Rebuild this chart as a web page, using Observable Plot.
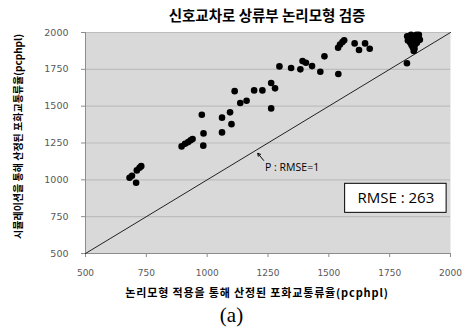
<!DOCTYPE html>
<html>
<head>
<meta charset="utf-8">
<script src="https://cdn.jsdelivr.net/npm/d3@7"></script>
<script src="https://cdn.jsdelivr.net/npm/@observablehq/plot@0.6"></script>
<style>
  html, body { margin: 0; padding: 0; background: #fff; }
</style>
</head>
<body>
<div id="chart"></div>
<script>
// ---- data ----
const title = "신호교차로 상류부 논리모형 검증";
const xLabel = "논리모형 적용을 통해 산정된 포화교통류율(pcphpl)";
const yLabel = "시뮬레이션을 통해 산정된 포화교통류율(pcphpl)";
const caption = "(a)";
const xTicks = [500, 750, 1000, 1250, 1500, 1750, 2000];
const yTicks = [500, 750, 1000, 1250, 1500, 1750, 2000];
const identity = [500, 2000];

// logic-model estimated saturation flow (x) vs simulation (y)
const modelFlow = [681, 691, 711, 722, 729, 708, 895, 909, 922, 932, 940, 984, 985, 978, 1061, 1061, 1100, 1094, 1113, 1136, 1162, 1193, 1227, 1263, 1279, 1263, 1297, 1345, 1383, 1392, 1406, 1431, 1465, 1482, 1539, 1538, 1546, 1556, 1563, 1606, 1624, 1649, 1668, 1821, 1849,
  1822, 1830, 1838, 1845, 1852, 1860, 1868, 1874, 1865, 1850, 1835, 1825, 1840, 1855, 1845, 1852, 1862, 1870];
const simFlow = [1014, 1028, 1064, 1082, 1093, 980, 1227, 1245, 1256, 1268, 1277, 1232, 1315, 1442, 1322, 1422, 1378, 1458, 1602, 1521, 1537, 1607, 1607, 1657, 1621, 1485, 1770, 1759, 1750, 1806, 1795, 1772, 1734, 1838, 1718, 1897, 1918, 1935, 1947, 1926, 1881, 1926, 1890, 1791, 1874,
  1975, 1955, 1985, 1965, 1975, 1985, 1970, 1950, 1945, 1940, 1930, 1945, 1915, 1920, 1900, 1890, 1930, 1985];

const rmseText = ["RMSE : 263"];
const rmseBox = [{x1: 1567, x2: 1984, y1: 776, y2: 973}];
const noteText = [{x: 1238, y: 1086, label: "P : RMSE=1"}];
const noteArrow = [{x1: 1232, y1: 1132, x2: 1208, y2: 1180}];

const points = modelFlow.map((v, i) => ({x: v, y: simFlow[i]}));

const kr = "'Noto Sans CJK KR', sans-serif";

const chart = Plot.plot({
  width: 462,
  height: 330,
  marginLeft: 85,
  marginRight: 12,
  marginTop: 32,
  marginBottom: 77,
  style: {fontFamily: "'DejaVu Sans', sans-serif", fontSize: "9px", color: "#595959", background: "#fff"},
  x: {domain: [500, 2000]},
  y: {domain: [500, 2000]},
  marks: [
    Plot.frame({fill: "#d9d9d9", stroke: null}),
    Plot.ruleY(yTicks, {stroke: "#bdbdbd", strokeWidth: 1.2}),
    Plot.ruleX([500], {stroke: "#8c8c8c"}),
    Plot.ruleY([500], {stroke: "#8c8c8c"}),
    Plot.axisX({ticks: xTicks, tickSize: 4, tickPadding: 12, tickFormat: d => String(d), label: null, stroke: "#8c8c8c", fill: "#595959"}),
    Plot.axisY({ticks: yTicks, tickSize: 4, tickPadding: 13, tickFormat: d => String(d), label: null, stroke: "#8c8c8c", fill: "#595959", fontSize: 9.5}),
    Plot.line(identity, {x: d => d, y: d => d, stroke: "#222", strokeWidth: 1}),
    Plot.dot(points, {x: "x", y: "y", r: 3.3, fill: "#000", stroke: null}),
    Plot.arrow(noteArrow, {x1: "x1", y1: "y1", x2: "x2", y2: "y2", stroke: "#000", strokeWidth: 1, headLength: 5}),
    Plot.text(noteText, {x: "x", y: "y", text: "label", textAnchor: "start", fill: "#000", fontSize: 10.5, fontFamily: "'Open Sans', 'Liberation Sans', sans-serif"}),
    Plot.rect(rmseBox, {x1: "x1", x2: "x2", y1: "y1", y2: "y2", fill: "#fff", stroke: "#000", strokeWidth: 1}),
    Plot.text(rmseText, {x: () => (rmseBox[0].x1 + rmseBox[0].x2) / 2, y: () => (rmseBox[0].y1 + rmseBox[0].y2) / 2, text: d => d, fill: "#000", fontSize: 15, fontFamily: "'Open Sans', 'Liberation Sans', sans-serif"}),
    Plot.text([title], {frameAnchor: "top", textAnchor: "middle", lineAnchor: "middle", dx: -1, dy: -16, text: d => d, fill: "#000", fontSize: 14.5, fontWeight: "bold", fontFamily: kr}),
    Plot.text([xLabel], {frameAnchor: "bottom", textAnchor: "middle", lineAnchor: "middle", dx: -11, dy: 40, text: d => d, fill: "#000", fontSize: 11, fontWeight: "bold", fontFamily: kr}),
    Plot.text([yLabel], {frameAnchor: "left", textAnchor: "middle", lineAnchor: "middle", dx: -67, dy: -6.5, rotate: -90, text: d => d, fill: "#000", fontSize: 10, fontWeight: "bold", fontFamily: kr}),
    Plot.text([caption], {frameAnchor: "bottom", textAnchor: "middle", lineAnchor: "middle", dx: -36.5, dy: 62, text: d => d, fill: "#000", fontSize: 21, fontFamily: "'Liberation Serif', serif"})
  ]
});
d3.select(chart).selectAll("text").filter(function () { return this.textContent === xLabel; }).attr("letter-spacing", "0.85px");
document.getElementById("chart").appendChild(chart);
</script>
</body>
</html>
